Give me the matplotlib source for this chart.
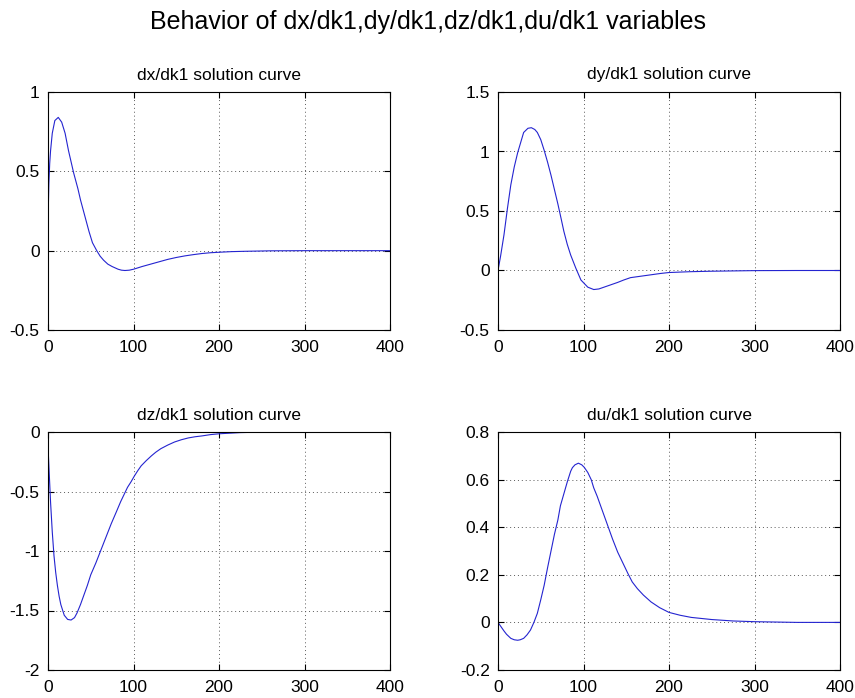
import numpy as np
import matplotlib
matplotlib.use("Agg")
import matplotlib.pyplot as plt
from matplotlib.ticker import FormatStrFormatter

plt.rcParams['font.family'] = ['Liberation Sans', 'DejaVu Sans']
plt.rcParams['axes.unicode_minus'] = False

# values
dx_t = [0, 0.5, 1, 2, 3, 5, 8, 12, 16, 20, 24, 30, 35, 38, 41, 45, 48, 52, 57, 61, 65, 70, 75,
        82, 86, 90, 95, 100, 110, 120, 130, 140, 150, 160, 170, 180, 190, 200, 215, 230, 260,
        300, 350, 400]
dx_v = [0.15, 0.30, 0.42, 0.55, 0.63, 0.74, 0.82, 0.84, 0.81, 0.74, 0.63, 0.49, 0.39, 0.32,
        0.26, 0.18, 0.12, 0.05, 0.0, -0.035, -0.06, -0.085, -0.10, -0.117, -0.123, -0.125,
        -0.123, -0.117, -0.10, -0.085, -0.07, -0.055, -0.043, -0.033, -0.025, -0.018, -0.013,
        -0.01, -0.006, -0.004, -0.001, 0, 0, 0]

dy_t = [0, 3, 7, 11, 15, 19, 23, 30, 35, 39, 43, 46, 50, 54, 58, 62, 66, 70, 74, 77, 81, 85, 91,
        97, 105, 112, 118, 124, 130, 140, 147, 155, 165, 179, 190, 200, 225, 250, 300, 350, 400]
dy_v = [0, 0.12, 0.30, 0.52, 0.72, 0.87, 0.99, 1.16, 1.195, 1.20, 1.185, 1.16, 1.10, 1.01, 0.91,
        0.80, 0.68, 0.56, 0.43, 0.33, 0.22, 0.13, 0.02, -0.08, -0.14, -0.16, -0.155, -0.14,
        -0.125, -0.10, -0.08, -0.06, -0.05, -0.036, -0.025, -0.017, -0.01, -0.006, -0.001, 0, 0]

dz_t = [0, 1.2, 3, 5, 7, 9, 11, 13, 15, 19, 23, 27, 31, 34, 38, 42, 46, 50, 56, 62, 68, 74, 80,
        85, 93, 97, 101, 105, 109, 115, 121, 126, 132, 140, 148, 156, 164, 172, 180, 190, 200,
        225, 250]
dz_v = [-0.12, -0.31, -0.59, -0.84, -1.04, -1.18, -1.29, -1.38, -1.45, -1.54, -1.575, -1.58,
        -1.56, -1.52, -1.45, -1.37, -1.29, -1.20, -1.10, -0.99, -0.88, -0.77, -0.67, -0.585,
        -0.465, -0.42, -0.37, -0.325, -0.284, -0.24, -0.2, -0.17, -0.14, -0.11, -0.084,
        -0.065, -0.05, -0.04, -0.033, -0.022, -0.015, -0.005, -0.001]

du_t = [0, 7, 10, 15, 19, 23, 26, 30, 34, 38, 42, 46, 50, 54, 58, 62, 66, 70, 73, 77, 81, 85,
        87, 90, 94, 98, 101, 105, 109, 112, 116, 122, 128, 134, 140, 146, 152, 157, 163, 170,
        179, 189, 200, 213, 226, 250, 275, 300, 350, 400]
du_v = [0, -0.036, -0.05, -0.067, -0.073, -0.075, -0.073, -0.067, -0.052, -0.032, 0, 0.038,
        0.095, 0.156, 0.23, 0.30, 0.37, 0.43, 0.49, 0.54, 0.59, 0.635, 0.65, 0.662, 0.669,
        0.662, 0.651, 0.63, 0.60, 0.565, 0.53, 0.47, 0.41, 0.35, 0.295, 0.25, 0.205, 0.17,
        0.142, 0.115, 0.086, 0.062, 0.042, 0.03, 0.021, 0.012, 0.006, 0.003, 0, 0]

titles = ["dx/dk1 solution curve", "dy/dk1 solution curve",
          "dz/dk1 solution curve", "du/dk1 solution curve"]
series = [(dx_t, dx_v), (dy_t, dy_v), (dz_t, dz_v), (du_t, du_v)]
ylims = [(-0.5, 1), (-0.5, 1.5), (-2, 0), (-0.2, 0.8)]
yticks = [[-0.5, 0, 0.5, 1], [-0.5, 0, 0.5, 1, 1.5],
          [-2, -1.5, -1, -0.5, 0], [-0.2, 0, 0.2, 0.4, 0.6, 0.8]]

fig = plt.figure(figsize=(8.55, 6.98), dpi=100)
W, H = 855, 698
boxes = [(48, 92), (498, 92), (48, 432), (498, 432)]
aw, ah = 342, 238

for i in range(4):
    left, top = boxes[i]
    ax = fig.add_axes([left / W, 1 - (top + ah) / H, aw / W, ah / H])
    t, v = series[i]
    ax.plot(t, v, color='#2424d0', lw=0.8)
    ax.set_xlim(0, 400)
    ax.set_ylim(*ylims[i])
    ax.set_xticks([0, 100, 200, 300, 400])
    ax.set_yticks(yticks[i])
    ax.yaxis.set_major_formatter(FormatStrFormatter('%g'))
    ax.grid(True, linestyle=(0, (1, 3)), color='0.35', lw=0.7)
    ax.tick_params(direction='in', top=True, right=True, length=4, labelsize=12.5)
    ax.tick_params(axis='x', pad=7)
    ax.tick_params(axis='y', pad=6)
    for s in ax.spines.values():
        s.set_linewidth(0.8)
    ax.set_title(titles[i], fontsize=12.5, pad=9)

fig.text(0.5, 1 - 22 / H, "Behavior of dx/dk1,dy/dk1,dz/dk1,du/dk1 variables",
         ha='center', va='center', fontsize=18)

plt.savefig("out.png", dpi=100)
